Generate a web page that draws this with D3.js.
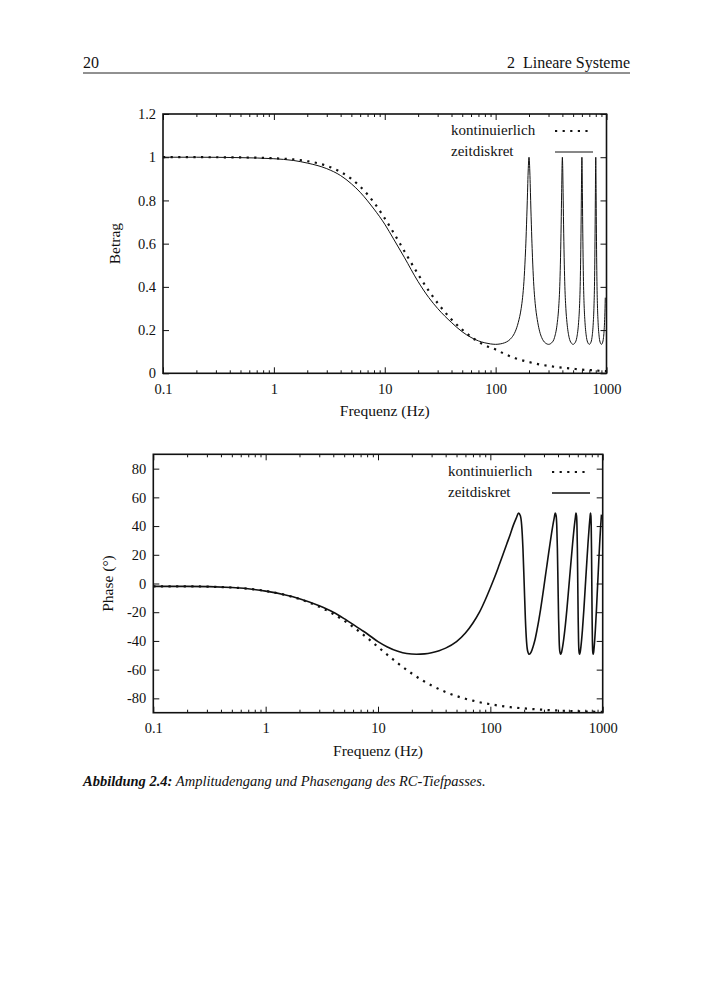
<!DOCTYPE html>
<html>
<head>
<meta charset="utf-8">
<script src="https://cdn.jsdelivr.net/npm/d3@7"></script>
<style>
  body { margin: 0; background: #fff; }
  svg text { font-family: "Liberation Serif", "DejaVu Serif", serif; fill: #111; }
</style>
</head>
<body>
<svg id="page" width="708" height="1000"></svg>
<script>
// --- data ---
// continuous RC lowpass (dotted)
var contFreq  = [0.1, 0.2, 0.5, 1, 1.5, 2, 3, 4, 5, 6, 7, 8, 10, 12, 15, 20, 25, 30, 40, 50, 60, 70, 80, 100, 120, 150, 200, 250, 300, 400, 500, 600, 700, 800, 1000];
var contMag   = [1.0, 1.0, 0.999, 0.995, 0.990, 0.982, 0.960, 0.932, 0.900, 0.864, 0.827, 0.790, 0.717, 0.651, 0.566, 0.458, 0.381, 0.325, 0.249, 0.202, 0.169, 0.146, 0.130, 0.110, 0.090, 0.070, 0.052, 0.041, 0.034, 0.026, 0.021, 0.017, 0.015, 0.013, 0.010];
var contPhase = [-2, -2, -2.8, -5.2, -8, -10.8, -16.2, -21.2, -25.9, -30.2, -34.2, -37.8, -44.2, -49.4, -55.5, -62.7, -67.6, -71.0, -75.6, -78.4, -80.3, -81.6, -82.7, -84.1, -85.1, -86.1, -87.0, -87.6, -88.0, -88.5, -88.8, -89.0, -89.2, -89.3, -89.4];

// time-discrete system (solid), magnitude
var discMagFreq = [0.1, 0.2, 0.5, 1, 1.5, 2, 3, 4, 5, 6, 7, 8, 10, 12, 15, 20, 25, 30, 40, 50, 60, 70, 80, 90, 100,
  110, 120, 130, 140, 150, 160, 170, 175, 180, 185, 188, 190, 192, 194, 196, 198, 200,
  202, 204, 206, 208, 210, 212, 215, 220, 225, 230, 240, 250, 260, 270, 280, 290, 300,
  320, 340, 360, 370, 380, 385, 390, 394, 398, 400, 402, 406, 410, 415, 420, 430, 440, 460, 480, 500,
  520, 540, 560, 570, 580, 585, 590, 594, 598, 600, 602, 606, 610, 615, 620, 630, 640, 660, 680, 700,
  720, 740, 760, 770, 780, 785, 790, 794, 798, 800, 802, 806, 810, 815, 820, 830, 840, 860, 880, 900,
  920, 940, 950, 960, 970, 975];
var discMag = [1.0, 1.0, 0.998, 0.993, 0.985, 0.973, 0.947, 0.915, 0.877, 0.838, 0.798, 0.760, 0.690, 0.622, 0.537, 0.424, 0.350, 0.300, 0.235, 0.192, 0.166, 0.150, 0.141, 0.136, 0.134,
  0.136, 0.141, 0.150, 0.166, 0.192, 0.235, 0.300, 0.350, 0.424, 0.537, 0.622, 0.690, 0.760, 0.838, 0.915, 0.973, 1.0,
  0.973, 0.915, 0.838, 0.760, 0.690, 0.622, 0.537, 0.424, 0.350, 0.300, 0.235, 0.192, 0.166, 0.150, 0.141, 0.136, 0.134,
  0.141, 0.166, 0.235, 0.300, 0.424, 0.537, 0.690, 0.838, 0.973, 1.0, 0.973, 0.838, 0.690, 0.537, 0.424, 0.300, 0.235, 0.166, 0.141, 0.134,
  0.141, 0.166, 0.235, 0.300, 0.424, 0.537, 0.690, 0.838, 0.973, 1.0, 0.973, 0.838, 0.690, 0.537, 0.424, 0.300, 0.235, 0.166, 0.141, 0.134,
  0.141, 0.166, 0.235, 0.300, 0.424, 0.537, 0.690, 0.838, 0.973, 1.0, 0.973, 0.838, 0.690, 0.537, 0.424, 0.300, 0.235, 0.166, 0.141, 0.134,
  0.141, 0.166, 0.192, 0.235, 0.300, 0.350];

// time-discrete system (solid), phase in degrees
var discPhFreq = [0.1, 0.2, 0.5, 1, 1.5, 2, 3, 4, 5, 6, 7, 8, 10, 12, 15, 18, 22, 26, 30, 35, 40, 50, 60, 70, 80, 90, 100,
  110, 120, 130, 140, 150, 160, 170, 178, 185, 190, 195, 200,
  205, 210, 215, 222, 230, 240, 250, 260, 270, 280, 290, 300,
  310, 320, 330, 340, 350, 360, 370, 378, 385, 390, 395, 400,
  405, 410, 415, 422, 430, 440, 460, 480, 500, 520, 540, 560, 570, 578, 585, 590, 595, 600,
  605, 610, 615, 622, 630, 640, 660, 680, 700, 720, 740, 760, 770, 778, 785, 790, 795, 800,
  805, 810, 815, 822, 830, 840, 860, 880, 900, 920, 940, 960, 970, 975];
var discPhase = [-2, -2, -2.8, -5.3, -8, -10.6, -15.5, -20, -24.5, -28.5, -32, -35, -40.5, -44, -47.2, -48.8, -49.3, -49, -48.2, -46.8, -45, -40.5, -34.5, -27.5, -20, -11.5, -3,
  5, 13, 20.5, 27.5, 34, 40.5, 45.5, 49, 47.2, 40.5, 24.5, 0,
  -24.5, -40.5, -47.2, -49.3, -48, -44, -39, -32.5, -25.5, -18, -10, -2,
  6, 13.5, 21, 28, 34.5, 40.5, 45.5, 49, 47.2, 40.5, 24.5, 0,
  -24.5, -40.5, -47.2, -49.3, -48, -44, -32.5, -18, -2, 13.5, 28, 40.5, 45.5, 49, 47.2, 40.5, 24.5, 0,
  -24.5, -40.5, -47.2, -49.3, -48, -44, -32.5, -18, -2, 13.5, 28, 40.5, 45.5, 49, 47.2, 40.5, 24.5, 0,
  -24.5, -40.5, -47.2, -49.3, -48, -44, -32.5, -18, -2, 13.5, 28, 40.5, 45.5, 48];

var decades = [0.1, 1, 10, 100, 1000];
var magTicks = [0, 0.2, 0.4, 0.6, 0.8, 1, 1.2];
var phaseTicks = [-80, -60, -40, -20, 0, 20, 40, 60, 80];
var legendNames = ["kontinuierlich", "zeitdiskret"];

var svg = d3.select("#page");

// page header
svg.append("text").attr("x", 83).attr("y", 68).style("font-size", "16px").text("20");
svg.append("text").attr("x", 630).attr("y", 68).attr("text-anchor", "end")
    .style("font-size", "16px").attr("xml:space", "preserve").text("2  Lineare Systeme");
svg.append("line").attr("x1", 83).attr("x2", 630).attr("y1", 73).attr("y2", 73)
    .attr("stroke", "#222").attr("stroke-width", 1);

// plain hyphen for negative numbers, like the original
function fmt(d) { return String(d); }

function plot(opt) {
    var x = d3.scaleLog().domain([0.1, 1000]).range([opt.left, opt.right]);
    var y = d3.scaleLinear().domain(opt.yDomain).range([opt.bottom, opt.top]);
    var g = svg.append("g");

    // minor + major ticks, bottom and top (inside)
    var minor = x.ticks().filter(function(d) { return decades.indexOf(d) < 0; });
    g.append("g").attr("transform", "translate(0," + opt.bottom + ")")
        .call(d3.axisBottom(x).tickValues(minor).tickSize(-3).tickFormat(""));
    g.append("g").attr("transform", "translate(0," + opt.top + ")")
        .call(d3.axisTop(x).tickValues(minor).tickSize(-3).tickFormat(""));
    g.append("g").attr("transform", "translate(0," + opt.bottom + ")")
        .call(d3.axisBottom(x).tickValues(decades).tickSize(-6).tickPadding(opt.xPad).tickFormat(fmt));
    g.append("g").attr("transform", "translate(0," + opt.top + ")")
        .call(d3.axisTop(x).tickValues(decades).tickSize(-6).tickFormat(""));

    // y ticks left/right
    g.append("g").attr("transform", "translate(" + opt.left + ",0)")
        .call(d3.axisLeft(y).tickValues(opt.yTicks).tickSize(-6).tickPadding(7).tickFormat(fmt));
    g.append("g").attr("transform", "translate(" + opt.right + ",0)")
        .call(d3.axisRight(y).tickValues(opt.yTicks).tickSize(-6).tickFormat(""));

    g.selectAll(".domain").remove();
    g.selectAll(".tick line").attr("stroke", "#111").attr("stroke-width", 1);
    g.selectAll(".tick text").attr("font-family", null).style("font-size", "14.5px").style("fill", "#111");

    // frame
    g.append("rect").attr("x", opt.left).attr("y", opt.top)
        .attr("width", opt.right - opt.left).attr("height", opt.bottom - opt.top)
        .attr("fill", "none").attr("stroke", "#111").attr("stroke-width", 1.6);

    var line = d3.line()
        .x(function(d) { return x(d[0]); })
        .y(function(d) { return y(d[1]); })
        .curve(d3.curveMonotoneX);

    g.append("path").datum(d3.zip(opt.discF, opt.discV))
        .attr("d", line).attr("fill", "none")
        .attr("stroke", "#111").attr("stroke-width", opt.solidW);

    g.append("path").datum(d3.zip(opt.contF, opt.contV))
        .attr("d", line).attr("fill", "none")
        .attr("stroke", "#111").attr("stroke-width", 2.2)
        .attr("stroke-dasharray", "2.2,5.4");

    // legend
    g.append("text").attr("x", opt.legX).attr("y", opt.legY)
        .style("font-size", "15px").text(legendNames[0]);
    g.append("text").attr("x", opt.legX).attr("y", opt.legY + 21)
        .style("font-size", "15px").text(legendNames[1]);
    g.append("line").attr("x1", opt.sampX).attr("x2", opt.sampX + 38)
        .attr("y1", opt.legY - 4).attr("y2", opt.legY - 4)
        .attr("stroke", "#111").attr("stroke-width", 2.2).attr("stroke-dasharray", "2.2,5.4");
    g.append("line").attr("x1", opt.sampX).attr("x2", opt.sampX + 38)
        .attr("y1", opt.legY + 17).attr("y2", opt.legY + 17)
        .attr("stroke", "#111").attr("stroke-width", opt.solidW);

    // axis titles
    g.append("text").attr("x", (opt.left + opt.right) / 2).attr("y", opt.bottom + 43)
        .attr("text-anchor", "middle").style("font-size", "15.5px").text("Frequenz (Hz)");
    g.append("text").attr("transform", "translate(" + opt.yTitleX + "," + (opt.top + opt.bottom) / 2 + ") rotate(-90)")
        .attr("text-anchor", "middle").style("font-size", "15.5px").text(opt.yTitle);
}

plot({
    left: 163, right: 606.5, top: 114, bottom: 373.3,
    yDomain: [0, 1.2], yTicks: magTicks, xPad: 10,
    discF: discMagFreq, discV: discMag, contF: contFreq, contV: contMag,
    solidW: 1, legX: 451, legY: 135, sampX: 555,
    yTitle: "Betrag", yTitleX: 120
});

plot({
    left: 153.3, right: 602.7, top: 454.3, bottom: 712.7,
    yDomain: [-90, 90], yTicks: phaseTicks, xPad: 10,
    discF: discPhFreq, discV: discPhase, contF: contFreq, contV: contPhase,
    solidW: 1.6, legX: 448, legY: 476, sampX: 552,
    yTitle: "Phase (°)", yTitleX: 113
});

// caption
var cap = svg.append("text").attr("x", 83).attr("y", 786).style("font-size", "14.5px").style("font-style", "italic");
cap.append("tspan").style("font-weight", "bold").text("Abbildung 2.4:");
cap.append("tspan").text(" Amplitudengang und Phasengang des RC-Tiefpasses.");
</script>
</body>
</html>
